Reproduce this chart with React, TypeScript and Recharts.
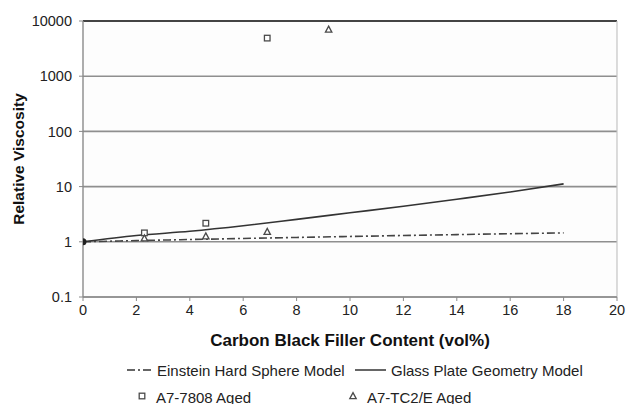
import React from 'react';
import {
  ComposedChart, Line, Scatter, XAxis, YAxis, CartesianGrid, Legend, ReferenceLine,
} from 'recharts';

const xTicks = [0, 2, 4, 6, 8, 10, 12, 14, 16, 18, 20];
const yTicks = [0.1, 1, 10, 100, 1000, 10000];

const modelX = [0, 2, 4, 6, 8, 10, 12, 14, 16, 18];
const einsteinY = [1, 1.05, 1.1, 1.15, 1.2, 1.25, 1.3, 1.35, 1.4, 1.45];
const glassY = [1, 1.3, 1.55, 1.95, 2.55, 3.35, 4.4, 5.9, 8.0, 11.2];

const a7808X = [2.3, 4.6, 6.9];
const a7808Y = [1.45, 2.17, 4900];
const tc2X = [2.3, 4.6, 6.9, 9.2];
const tc2Y = [1.16, 1.26, 1.52, 7000];
const originX = [0];
const originY = [1];

const modelData = modelX.map((x, i) => ({ x, einstein: einsteinY[i], glass: glassY[i] }));
const a7808Data = a7808X.map((x, i) => ({ x, y: a7808Y[i] }));
const tc2Data = tc2X.map((x, i) => ({ x, y: tc2Y[i] }));
const originData = originX.map((x, i) => ({ x, y: originY[i] }));

const FONT = '"Liberation Sans", Arial, sans-serif';
const MARK = '#4a4a4a';

const SquareShape = (p: any) => {
  const { cx, cy } = p;
  if (cx == null || cy == null) return null;
  return <rect x={cx - 2.8} y={cy - 2.8} width={5.6} height={5.6} fill="#fff" stroke={MARK} strokeWidth={1.3} />;
};
const TriShape = (p: any) => {
  const { cx, cy } = p;
  if (cx == null || cy == null) return null;
  return <polygon points={`${cx},${cy - 3.4} ${cx + 3.2},${cy + 2.6} ${cx - 3.2},${cy + 2.6}`} fill="#fff" stroke={MARK} strokeWidth={1.3} />;
};
const DotShape = (p: any) => {
  const { cx, cy } = p;
  if (cx == null || cy == null) return null;
  return <circle cx={cx} cy={cy} r={3.5} fill="#222" />;
};

const LegendContent = () => (
  <svg width={627} height={52} style={{ display: 'block' }}>
    <g fontFamily={FONT} fontSize={15} fill="#222">
      <line x1={127} y1={18} x2={153} y2={18} stroke="#333" strokeWidth={1.5} strokeDasharray="8 3 2 3" />
      <text x={157} y={18} dominantBaseline="central">Einstein Hard Sphere Model</text>
      <line x1={355} y1={18} x2={386} y2={18} stroke="#333" strokeWidth={1.5} />
      <text x={391} y={18} dominantBaseline="central">Glass Plate Geometry Model</text>
      <SquareShape cx={142} cy={44} />
      <text x={156} y={45} dominantBaseline="central">A7-7808 Aged</text>
      <TriShape cx={353} cy={44} />
      <text x={367} y={45} dominantBaseline="central">A7-TC2/E Aged</text>
    </g>
  </svg>
);

const XTitle = (props: any) => {
  const vb = props.viewBox || {};
  return (
    <text x={vb.x + vb.width / 2} y={346} textAnchor="middle" fontFamily={FONT} fontSize={17} fontWeight="bold" fill="#111">
      Carbon Black Filler Content (vol%)
    </text>
  );
};
const YTitle = (props: any) => {
  const vb = props.viewBox || {};
  const cy = vb.y + vb.height / 2;
  return (
    <text x={18} y={cy} transform={`rotate(-90 18 ${cy})`} textAnchor="middle" dominantBaseline="central" fontFamily={FONT} fontSize={15.5} fontWeight="bold" fill="#111">
      Relative Viscosity
    </text>
  );
};

const fmtY = (v: number) => (v < 1 ? String(v) : String(Math.round(v)));

export default function App() {
  return (
    <div style={{ position: 'absolute', left: 0, top: 0, width: 627, height: 404, background: '#fff' }}>
      <ComposedChart width={627} height={404} data={modelData} margin={{ top: 21, right: 10, bottom: 0, left: 0 }}>
        <CartesianGrid horizontal vertical={false} stroke="#8f8f8f" strokeWidth={1.6} fill="#fdfdfd" />
        <XAxis
          dataKey="x" type="number" domain={[0, 20]} ticks={xTicks} allowDataOverflow
          height={55} tickSize={4} tickMargin={4} interval={0}
          axisLine={{ stroke: '#8f8f8f', strokeWidth: 1.6 }} tickLine={{ stroke: '#888' }}
          tick={{ fontFamily: FONT, fontSize: 14.5, fill: '#222' }}
          label={<XTitle />}
        />
        <YAxis
          type="number" scale="log" domain={[0.1, 10000]} ticks={yTicks} allowDataOverflow
          width={83} tickSize={4} tickMargin={7} interval={0} tickFormatter={fmtY}
          axisLine={{ stroke: '#8a8a8a', strokeWidth: 1.4 }} tickLine={{ stroke: '#888' }}
          tick={{ fontFamily: FONT, fontSize: 14.5, fill: '#222' }}
          label={<YTitle />}
        />
        <ReferenceLine y={10000} stroke="#444" strokeWidth={1.8} />
        <ReferenceLine x={20} stroke="#c4c4c4" strokeWidth={1.2} />
        <Line dataKey="einstein" stroke="#444" strokeWidth={1.6} strokeDasharray="8 3 2 3" dot={false} isAnimationActive={false} type="monotone" legendType="none" />
        <Line dataKey="glass" stroke="#333" strokeWidth={1.6} dot={false} isAnimationActive={false} type="monotone" legendType="none" />
        <Scatter data={a7808Data} dataKey="y" shape={SquareShape} isAnimationActive={false} legendType="none" />
        <Scatter data={tc2Data} dataKey="y" shape={TriShape} isAnimationActive={false} legendType="none" />
        <Scatter data={originData} dataKey="y" shape={DotShape} isAnimationActive={false} legendType="none" />
        <Legend verticalAlign="bottom" height={52} content={<LegendContent />} wrapperStyle={{ left: 0, width: 627, bottom: 0 }} />
      </ComposedChart>
    </div>
  );
}
